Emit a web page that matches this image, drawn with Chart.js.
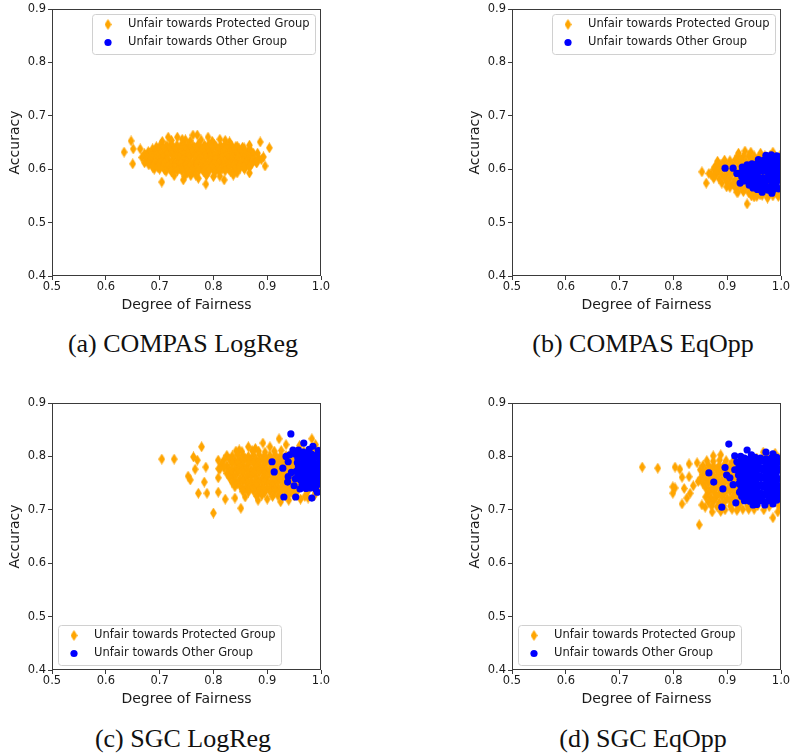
<!DOCTYPE html>
<html>
<head>
<meta charset="utf-8">
<script src="https://cdn.jsdelivr.net/npm/chart.js@4.4.0/dist/chart.umd.min.js"></script>
<style>
  body { margin: 0; background: #fff; }
  #page { position: relative; width: 790px; height: 753px; overflow: hidden; }
  .panel { position: absolute; width: 330px; height: 320px; }
  .caption { position: absolute; width: 366px; text-align: center; font-family: "Liberation Serif", serif; font-size: 26px; line-height: 26px; color: #111; }
</style>
</head>
<body>
<div id="page">
  <div class="panel" style="left:0;top:0"><canvas id="chartA" width="330" height="320"></canvas></div>
  <div class="panel" style="left:460px;top:0"><canvas id="chartB" width="330" height="320"></canvas></div>
  <div class="panel" style="left:0;top:394px"><canvas id="chartC" width="330" height="320"></canvas></div>
  <div class="panel" style="left:460px;top:394px"><canvas id="chartD" width="330" height="320"></canvas></div>
  <div class="caption" style="left:0;top:331px">(a) COMPAS LogReg</div>
  <div class="caption" style="left:460px;top:331px">(b) COMPAS EqOpp</div>
  <div class="caption" style="left:0;top:726px">(c) SGC LogReg</div>
  <div class="caption" style="left:460px;top:726px">(d) SGC EqOpp</div>
</div>
<script>
const xTicks = [0.5, 0.6, 0.7, 0.8, 0.9, 1.0];
const yTicks = [0.4, 0.5, 0.6, 0.7, 0.8, 0.9];
const seriesNames = ['Unfair towards Protected Group', 'Unfair towards Other Group'];

// [fairness, accuracy] pairs
const compasLogRegProtected = [
  [0.634,0.632],[0.647,0.653],[0.651,0.638],[0.664,0.638],[0.650,0.610],[0.704,0.576],[0.786,0.572],
  [0.820,0.580],[0.887,0.651],[0.904,0.640],[0.896,0.606],[0.893,0.623],[0.867,0.645],[0.874,0.630],
  [0.716,0.660],[0.733,0.660],[0.762,0.664],[0.770,0.664],[0.790,0.660],[0.744,0.580],[0.772,0.583],
  [0.844,0.593],[0.867,0.593],[0.889,0.618],[0.880,0.612],[0.858,0.600],[0.705,0.652],[0.748,0.655],
  [0.812,0.656],[0.830,0.651],[0.758,0.588],[0.800,0.586],[0.690,0.600],[0.682,0.627],
  [0.722,0.654],[0.742,0.656],[0.757,0.653],[0.777,0.655],[0.798,0.652],[0.822,0.654],
  [0.702,0.646],[0.712,0.644],[0.721,0.647],[0.732,0.645],[0.742,0.648],[0.753,0.646],[0.762,0.644],
  [0.772,0.647],[0.783,0.645],[0.792,0.648],[0.802,0.646],[0.813,0.644],[0.822,0.647],[0.833,0.645],[0.842,0.643],
  [0.694,0.642],[0.705,0.641],[0.714,0.643],[0.725,0.642],[0.734,0.641],[0.745,0.643],[0.754,0.642],
  [0.765,0.641],[0.774,0.643],[0.785,0.642],[0.794,0.641],[0.805,0.643],[0.814,0.642],[0.825,0.641],
  [0.834,0.643],[0.845,0.642],[0.854,0.641],
  [0.687,0.638],[0.697,0.637],[0.707,0.639],[0.717,0.637],[0.727,0.638],[0.738,0.640],[0.747,0.637],
  [0.757,0.638],[0.767,0.639],[0.778,0.637],[0.787,0.638],[0.797,0.640],[0.808,0.637],[0.817,0.638],
  [0.827,0.639],[0.837,0.637],[0.848,0.638],[0.857,0.640],[0.867,0.637],
  [0.679,0.633],[0.690,0.634],[0.699,0.633],[0.710,0.632],[0.719,0.634],[0.730,0.633],[0.739,0.632],
  [0.750,0.634],[0.759,0.633],[0.770,0.632],[0.779,0.634],[0.790,0.633],[0.799,0.632],[0.810,0.634],
  [0.819,0.633],[0.830,0.632],[0.839,0.634],[0.850,0.633],[0.859,0.632],[0.870,0.634],
  [0.672,0.629],[0.681,0.630],[0.692,0.628],[0.701,0.629],[0.711,0.631],[0.722,0.629],[0.731,0.628],
  [0.741,0.630],[0.752,0.629],[0.761,0.631],[0.771,0.628],[0.782,0.629],[0.791,0.630],[0.801,0.628],
  [0.812,0.629],[0.821,0.631],[0.831,0.629],[0.842,0.628],[0.851,0.630],[0.861,0.629],[0.872,0.628],[0.882,0.630],
  [0.674,0.625],[0.685,0.626],[0.694,0.625],[0.705,0.624],[0.714,0.626],[0.725,0.625],[0.734,0.624],
  [0.745,0.626],[0.754,0.625],[0.765,0.624],[0.774,0.626],[0.785,0.625],[0.794,0.624],[0.805,0.626],
  [0.814,0.625],[0.825,0.624],[0.834,0.626],[0.845,0.625],[0.854,0.624],[0.865,0.626],[0.874,0.625],
  [0.667,0.622],[0.677,0.621],[0.687,0.620],[0.697,0.622],[0.706,0.621],[0.716,0.619],[0.727,0.621],
  [0.737,0.622],[0.746,0.620],[0.756,0.621],[0.767,0.622],[0.776,0.620],[0.786,0.621],[0.797,0.619],
  [0.806,0.621],[0.816,0.622],[0.827,0.620],[0.836,0.621],[0.846,0.622],[0.857,0.620],[0.866,0.621],
  [0.876,0.619],[0.884,0.621],
  [0.675,0.616],[0.684,0.617],[0.695,0.616],[0.704,0.615],[0.715,0.617],[0.724,0.616],[0.735,0.615],
  [0.744,0.617],[0.755,0.616],[0.764,0.615],[0.775,0.617],[0.784,0.616],[0.795,0.615],[0.804,0.617],
  [0.815,0.616],[0.824,0.615],[0.835,0.617],[0.844,0.616],[0.855,0.615],[0.864,0.617],[0.875,0.616],
  [0.672,0.612],[0.682,0.613],[0.691,0.611],[0.701,0.612],[0.712,0.614],[0.722,0.612],[0.731,0.611],
  [0.741,0.613],[0.752,0.612],[0.762,0.611],[0.771,0.613],[0.781,0.612],[0.792,0.614],[0.802,0.612],
  [0.811,0.611],[0.821,0.613],[0.832,0.612],[0.842,0.611],[0.851,0.613],[0.861,0.612],[0.872,0.611],[0.881,0.613],
  [0.680,0.608],[0.689,0.607],[0.700,0.608],[0.709,0.609],[0.720,0.608],[0.729,0.607],[0.740,0.609],
  [0.749,0.608],[0.760,0.607],[0.769,0.609],[0.780,0.608],[0.789,0.607],[0.800,0.609],[0.809,0.608],
  [0.820,0.607],[0.829,0.609],[0.840,0.608],[0.849,0.607],[0.860,0.609],[0.869,0.608],
  [0.687,0.604],[0.697,0.603],[0.707,0.604],[0.716,0.605],[0.727,0.604],[0.737,0.602],[0.747,0.604],
  [0.756,0.605],[0.767,0.603],[0.777,0.604],[0.786,0.605],[0.797,0.603],[0.807,0.604],[0.817,0.602],
  [0.826,0.604],[0.837,0.605],[0.847,0.603],[0.856,0.604],[0.867,0.603],
  [0.700,0.600],[0.709,0.599],[0.720,0.600],[0.729,0.601],[0.740,0.600],[0.749,0.599],[0.760,0.601],
  [0.769,0.600],[0.780,0.599],[0.789,0.601],[0.800,0.600],[0.809,0.599],[0.820,0.601],[0.829,0.600],
  [0.840,0.599],[0.849,0.601],
  [0.712,0.596],[0.722,0.595],[0.733,0.597],[0.742,0.596],[0.752,0.594],[0.762,0.596],[0.773,0.597],
  [0.782,0.595],[0.792,0.596],[0.803,0.594],[0.812,0.596],[0.822,0.597],[0.832,0.595],
  [0.727,0.588],[0.747,0.587],[0.767,0.589],[0.787,0.588],[0.812,0.587],[0.837,0.589]
];
const compasLogRegOther = [];

const compasEqOppProtected = [
  [0.853,0.595],[0.861,0.574],[0.937,0.535],[0.933,0.634],[0.877,0.604],[0.887,0.608],[0.875,0.586],
  [0.899,0.567],[0.918,0.557],[0.961,0.552],[0.993,0.555],[0.942,0.623],[0.958,0.621],[0.921,0.630],
  [0.944,0.632],[0.962,0.630],[0.985,0.632],[0.975,0.546],[0.950,0.548],[0.866,0.592],[0.882,0.615],
  [0.920,0.625],[0.930,0.624],[0.940,0.626],[0.950,0.625],[0.960,0.623],[0.970,0.625],[0.980,0.626],[0.990,0.624],[0.998,0.625],
  [0.895,0.617],[0.905,0.616],[0.915,0.618],[0.925,0.617],[0.935,0.615],[0.945,0.617],[0.955,0.618],
  [0.965,0.616],[0.975,0.617],[0.985,0.618],[0.995,0.616],
  [0.880,0.608],[0.890,0.609],[0.900,0.607],[0.910,0.608],[0.920,0.610],[0.930,0.608],[0.940,0.607],
  [0.950,0.609],[0.960,0.608],[0.970,0.607],[0.980,0.609],[0.990,0.608],
  [0.875,0.600],[0.885,0.599],[0.895,0.601],[0.905,0.600],[0.915,0.598],[0.925,0.600],[0.935,0.601],
  [0.945,0.599],[0.955,0.600],[0.965,0.601],[0.975,0.599],[0.985,0.600],[0.995,0.601],
  [0.870,0.591],[0.880,0.592],[0.890,0.590],[0.900,0.591],[0.910,0.593],[0.920,0.591],[0.930,0.590],
  [0.940,0.592],[0.950,0.591],[0.960,0.590],[0.970,0.592],[0.980,0.591],[0.990,0.590],
  [0.875,0.583],[0.885,0.582],[0.895,0.584],[0.905,0.583],[0.915,0.581],[0.925,0.583],[0.935,0.584],
  [0.945,0.582],[0.955,0.583],[0.965,0.584],[0.975,0.582],[0.985,0.583],[0.995,0.582],
  [0.890,0.574],[0.900,0.575],[0.910,0.573],[0.920,0.574],[0.930,0.576],[0.940,0.574],[0.950,0.573],
  [0.960,0.575],[0.970,0.574],[0.980,0.573],[0.990,0.575],
  [0.905,0.566],[0.915,0.565],[0.925,0.567],[0.935,0.566],[0.945,0.564],[0.955,0.566],[0.965,0.567],
  [0.975,0.565],[0.985,0.566],[0.995,0.564],
  [0.920,0.557],[0.930,0.558],[0.940,0.556],[0.950,0.557],[0.960,0.559],[0.970,0.557],[0.980,0.556],[0.990,0.558],
  [0.945,0.550],[0.955,0.549],[0.965,0.551],[0.985,0.550],[0.995,0.549]
];
const compasEqOppOther = [
  [0.896,0.602],[0.911,0.602],[0.924,0.574],[0.937,0.608],[0.948,0.565],[0.965,0.557],[0.983,0.555],
  [0.980,0.623],[0.998,0.623],[0.918,0.592],[0.928,0.604],
  [0.972,0.626],[0.982,0.627],[0.992,0.625],
  [0.958,0.618],[0.968,0.617],[0.978,0.619],[0.988,0.618],[0.997,0.617],
  [0.946,0.610],[0.956,0.611],[0.966,0.609],[0.976,0.610],[0.986,0.611],[0.996,0.609],
  [0.932,0.602],[0.942,0.601],[0.952,0.603],[0.962,0.602],[0.972,0.600],[0.982,0.602],[0.992,0.603],
  [0.926,0.594],[0.936,0.595],[0.946,0.593],[0.956,0.594],[0.966,0.596],[0.976,0.594],[0.986,0.593],[0.996,0.595],
  [0.927,0.586],[0.937,0.585],[0.947,0.587],[0.957,0.586],[0.967,0.584],[0.977,0.586],[0.987,0.587],[0.997,0.585],
  [0.932,0.578],[0.942,0.579],[0.952,0.577],[0.962,0.578],[0.972,0.580],[0.982,0.578],[0.992,0.577],
  [0.941,0.570],[0.951,0.569],[0.961,0.571],[0.971,0.570],[0.981,0.568],[0.991,0.570],
  [0.956,0.562],[0.966,0.563],[0.976,0.561],[0.986,0.562],[0.996,0.563]
];

const sgcLogRegProtected = [
  [0.704,0.795],[0.727,0.795],[0.800,0.694],[0.851,0.703],[0.778,0.818],[0.763,0.799],[0.770,0.793],
  [0.766,0.776],[0.753,0.763],[0.757,0.756],[0.772,0.731],[0.786,0.780],[0.783,0.752],[0.788,0.731],
  [0.809,0.733],[0.822,0.720],[0.840,0.722],[0.859,0.724],[0.883,0.718],[0.922,0.833],[0.983,0.833],
  [0.865,0.818],[0.892,0.825],[0.812,0.776],[0.809,0.760],[0.809,0.793],[0.878,0.815],[0.905,0.818],
  [0.848,0.812],[0.935,0.822],[0.960,0.820],[0.990,0.822],[0.900,0.720],[0.925,0.715],[0.940,0.718],
  [0.962,0.720],[0.976,0.722],
  [0.842,0.810],[0.853,0.809],[0.872,0.811],[0.884,0.810],[0.896,0.808],[0.913,0.810],[0.926,0.811],
  [0.946,0.809],[0.968,0.810],[0.985,0.812],[0.996,0.809],
  [0.825,0.802],[0.835,0.801],[0.845,0.803],[0.855,0.802],[0.865,0.800],[0.875,0.802],[0.885,0.803],
  [0.895,0.801],[0.905,0.802],[0.915,0.803],[0.925,0.801],[0.935,0.802],[0.945,0.800],[0.955,0.802],
  [0.975,0.803],[0.995,0.801],
  [0.820,0.794],[0.830,0.795],[0.840,0.793],[0.850,0.794],[0.860,0.796],[0.870,0.794],[0.880,0.793],
  [0.890,0.795],[0.900,0.794],[0.910,0.793],[0.920,0.795],[0.930,0.794],[0.940,0.796],[0.950,0.794],[0.960,0.793],
  [0.834,0.790],[0.845,0.789],[0.855,0.790],[0.864,0.791],[0.875,0.790],[0.884,0.789],[0.895,0.790],
  [0.904,0.791],[0.915,0.790],[0.924,0.789],[0.935,0.790],[0.944,0.791],
  [0.815,0.785],[0.825,0.784],[0.835,0.786],[0.845,0.785],[0.855,0.783],[0.865,0.785],[0.875,0.786],
  [0.885,0.784],[0.895,0.785],[0.905,0.786],[0.915,0.784],[0.925,0.785],[0.935,0.783],[0.945,0.785],[0.955,0.786],
  [0.810,0.777],[0.820,0.778],[0.830,0.776],[0.840,0.777],[0.850,0.779],[0.860,0.777],[0.870,0.776],
  [0.880,0.778],[0.890,0.777],[0.900,0.776],[0.910,0.778],[0.920,0.777],[0.930,0.779],[0.940,0.777],[0.950,0.776],[0.960,0.778],
  [0.834,0.772],[0.845,0.773],[0.854,0.772],[0.865,0.771],[0.874,0.773],[0.885,0.772],[0.894,0.771],
  [0.905,0.773],[0.914,0.772],[0.925,0.771],[0.934,0.773],[0.945,0.772],
  [0.825,0.768],[0.835,0.767],[0.845,0.769],[0.855,0.768],[0.865,0.766],[0.875,0.768],[0.885,0.769],
  [0.895,0.767],[0.905,0.768],[0.915,0.769],[0.925,0.767],[0.935,0.768],[0.945,0.766],[0.955,0.768],
  [0.830,0.760],[0.840,0.761],[0.850,0.759],[0.860,0.760],[0.870,0.762],[0.880,0.760],[0.890,0.759],
  [0.900,0.761],[0.910,0.760],[0.920,0.759],[0.930,0.761],[0.940,0.760],[0.950,0.762],[0.960,0.760],
  [0.839,0.755],[0.850,0.756],[0.859,0.755],[0.870,0.754],[0.879,0.756],[0.890,0.755],[0.899,0.754],
  [0.910,0.756],[0.919,0.755],[0.930,0.754],[0.939,0.756],[0.950,0.755],
  [0.835,0.751],[0.845,0.750],[0.855,0.752],[0.865,0.751],[0.875,0.749],[0.885,0.751],[0.895,0.752],
  [0.905,0.750],[0.915,0.751],[0.925,0.752],[0.935,0.750],[0.945,0.751],[0.955,0.749],[0.965,0.751],
  [0.840,0.743],[0.850,0.744],[0.860,0.742],[0.870,0.743],[0.880,0.745],[0.890,0.743],[0.900,0.742],
  [0.910,0.744],[0.920,0.743],[0.930,0.742],[0.940,0.744],[0.950,0.743],[0.960,0.745],[0.980,0.743],[0.995,0.742],
  [0.854,0.738],[0.865,0.739],[0.874,0.738],[0.885,0.737],[0.894,0.739],[0.905,0.738],[0.914,0.737],
  [0.925,0.739],[0.934,0.738],[0.945,0.737],[0.954,0.739],
  [0.855,0.734],[0.865,0.733],[0.875,0.735],[0.885,0.734],[0.895,0.732],[0.905,0.734],[0.915,0.735],
  [0.925,0.733],[0.935,0.734],[0.945,0.735],[0.955,0.733],[0.975,0.734],[0.990,0.732],
  [0.880,0.726],[0.890,0.727],[0.910,0.725],[0.920,0.726],[0.940,0.728],[0.950,0.726],[0.970,0.725],[0.988,0.727]
];
const sgcLogRegOther = [
  [0.944,0.842],[0.968,0.825],[0.985,0.819],[0.909,0.790],[0.913,0.771],[0.929,0.778],[0.931,0.724],
  [0.953,0.724],[0.983,0.722],[0.993,0.733],[0.980,0.741],[0.939,0.762],[0.942,0.803],[0.948,0.812],
  [0.961,0.739],[0.967,0.808],[0.939,0.790],[0.935,0.800],[0.945,0.770],[0.938,0.752],[0.952,0.758],[0.950,0.745],
  [0.958,0.812],[0.978,0.813],[0.995,0.811],
  [0.953,0.804],[0.963,0.803],[0.973,0.805],[0.983,0.804],[0.993,0.803],
  [0.957,0.796],[0.967,0.797],[0.977,0.795],[0.987,0.796],[0.997,0.797],
  [0.956,0.788],[0.966,0.787],[0.976,0.789],[0.986,0.788],[0.996,0.787],
  [0.958,0.780],[0.968,0.781],[0.978,0.779],[0.988,0.780],[0.997,0.781],
  [0.954,0.772],[0.964,0.771],[0.974,0.773],[0.984,0.772],[0.994,0.771],
  [0.957,0.764],[0.967,0.765],[0.977,0.763],[0.987,0.764],[0.997,0.765],
  [0.962,0.756],[0.972,0.755],[0.982,0.757],[0.992,0.756],
  [0.965,0.748],[0.975,0.749],[0.985,0.747],[0.995,0.748],
  [0.972,0.740],[0.990,0.739]
];

const sgcEqOppProtected = [
  [0.742,0.780],[0.771,0.778],[0.803,0.780],[0.812,0.776],[0.829,0.786],[0.844,0.788],[0.799,0.743],
  [0.799,0.731],[0.803,0.741],[0.816,0.761],[0.816,0.711],[0.825,0.722],[0.831,0.731],[0.829,0.762],
  [0.848,0.672],[0.846,0.753],[0.853,0.709],[0.859,0.705],[0.874,0.801],[0.888,0.803],[0.872,0.696],
  [0.888,0.697],[0.909,0.701],[0.929,0.701],[0.950,0.701],[0.985,0.685],[0.994,0.696],[0.967,0.808],
  [0.989,0.806],[0.996,0.797],[0.837,0.745],[0.820,0.740],
  [0.862,0.792],[0.874,0.791],[0.886,0.793],[0.898,0.792],[0.910,0.790],[0.930,0.795],[0.955,0.797],[0.975,0.799],[0.993,0.794],
  [0.855,0.783],[0.865,0.784],[0.875,0.782],[0.885,0.783],[0.895,0.785],[0.905,0.783],[0.915,0.782],
  [0.850,0.775],[0.860,0.774],[0.870,0.776],[0.880,0.775],[0.890,0.773],[0.900,0.775],[0.910,0.776],[0.920,0.774],
  [0.855,0.766],[0.865,0.767],[0.875,0.765],[0.885,0.766],[0.895,0.768],[0.905,0.766],[0.915,0.765],[0.925,0.767],
  [0.850,0.758],[0.860,0.757],[0.870,0.759],[0.880,0.758],[0.890,0.756],[0.900,0.758],[0.910,0.759],[0.920,0.757],
  [0.855,0.749],[0.865,0.750],[0.875,0.748],[0.885,0.749],[0.895,0.751],[0.905,0.749],[0.915,0.748],[0.925,0.750],
  [0.860,0.741],[0.870,0.740],[0.880,0.742],[0.890,0.741],[0.900,0.739],[0.910,0.741],[0.920,0.742],
  [0.865,0.732],[0.875,0.733],[0.885,0.731],[0.895,0.732],[0.905,0.734],[0.915,0.732],[0.925,0.731],
  [0.860,0.724],[0.870,0.723],[0.880,0.725],[0.890,0.724],[0.900,0.722],[0.910,0.724],[0.920,0.725],[0.930,0.723],
  [0.865,0.715],[0.875,0.716],[0.885,0.714],[0.895,0.715],[0.905,0.717],[0.915,0.715],[0.925,0.714],
  [0.935,0.716],[0.955,0.715],[0.975,0.714],[0.995,0.716],
  [0.871,0.707],[0.881,0.706],[0.893,0.708],[0.906,0.707],[0.921,0.705],[0.938,0.707],[0.957,0.708],
  [0.978,0.706],[0.996,0.707],
  [0.896,0.700],[0.918,0.699],[0.940,0.701],[0.968,0.700]
];
const sgcEqOppOther = [
  [0.903,0.823],[0.937,0.812],[0.914,0.801],[0.866,0.769],[0.875,0.752],[0.892,0.739],[0.890,0.705],
  [0.896,0.779],[0.899,0.765],[0.914,0.775],[0.911,0.747],[0.916,0.713],[0.948,0.709],[0.972,0.808],
  [0.985,0.805],[0.905,0.760],[0.918,0.790],[0.925,0.800],[0.945,0.803],
  [0.932,0.797],[0.942,0.796],[0.952,0.798],[0.962,0.797],[0.972,0.795],[0.982,0.797],[0.992,0.798],
  [0.927,0.789],[0.937,0.790],[0.947,0.788],[0.957,0.789],[0.967,0.791],[0.977,0.789],[0.987,0.788],[0.997,0.790],
  [0.922,0.781],[0.932,0.780],[0.942,0.782],[0.952,0.781],[0.962,0.779],[0.972,0.781],[0.982,0.782],[0.992,0.780],
  [0.925,0.773],[0.935,0.774],[0.945,0.772],[0.955,0.773],[0.965,0.775],[0.975,0.773],[0.985,0.772],[0.995,0.774],
  [0.921,0.765],[0.931,0.764],[0.941,0.766],[0.951,0.765],[0.961,0.763],[0.971,0.765],[0.981,0.766],[0.991,0.764],
  [0.924,0.757],[0.934,0.758],[0.944,0.756],[0.954,0.757],[0.964,0.759],[0.974,0.757],[0.984,0.756],[0.994,0.758],
  [0.922,0.749],[0.932,0.748],[0.942,0.750],[0.952,0.749],[0.962,0.747],[0.972,0.749],[0.982,0.750],[0.992,0.748],
  [0.926,0.741],[0.936,0.742],[0.946,0.740],[0.956,0.741],[0.966,0.743],[0.976,0.741],[0.986,0.740],[0.996,0.742],
  [0.923,0.733],[0.933,0.732],[0.943,0.734],[0.953,0.733],[0.963,0.731],[0.973,0.733],[0.983,0.734],[0.993,0.732],
  [0.927,0.725],[0.937,0.726],[0.947,0.724],[0.957,0.725],[0.967,0.727],[0.977,0.725],[0.987,0.724],[0.997,0.726],
  [0.932,0.717],[0.942,0.716],[0.952,0.718],[0.962,0.717],[0.972,0.715],[0.982,0.717],[0.992,0.718],
  [0.955,0.710],[0.970,0.709],[0.985,0.711]
];

const PROT_COLOR = '#ffa500';
const OTHER_COLOR = '#0000ff';
const INK = '#1a1a1a';
const SPINE = '#3a3a3a';

Chart.defaults.font.family = '"DejaVu Sans", sans-serif';
Chart.defaults.color = INK;

// thin diamond marker, like matplotlib's 'd'
const diamond = document.createElement('canvas');
diamond.width = 7;
diamond.height = 11;
(function () {
  const c = diamond.getContext('2d');
  c.fillStyle = PROT_COLOR;
  c.beginPath();
  c.moveTo(3.5, 0.1);
  c.lineTo(6.9, 5.5);
  c.lineTo(3.5, 10.9);
  c.lineTo(0.1, 5.5);
  c.closePath();
  c.fill();
})();

// full box around the plot area
const frame = {
  id: 'frame',
  afterDatasetsDraw(chart) {
    const { ctx, chartArea: a } = chart;
    ctx.save();
    ctx.strokeStyle = SPINE;
    ctx.lineWidth = 1;
    ctx.strokeRect(a.left + 0.5, a.top + 0.5, a.right - a.left - 1, a.bottom - a.top - 1);
    ctx.restore();
  }
};

// boxed legend sitting inside the plot area
const insetLegend = {
  id: 'insetLegend',
  afterDraw(chart, args, opts) {
    const { ctx, chartArea: a } = chart;
    const w = 223, h = 40;
    const x = opts.corner === 'tr' ? a.right - 6 - w : a.left + 6;
    const y = opts.corner === 'tr' ? a.top + 5 : a.bottom - 5 - h;
    ctx.save();
    ctx.fillStyle = 'rgba(255,255,255,0.8)';
    ctx.strokeStyle = '#d0d0d0';
    ctx.lineWidth = 1;
    ctx.beginPath();
    ctx.roundRect(x + 0.5, y + 0.5, w, h, 3);
    ctx.fill();
    ctx.stroke();
    ctx.font = '11.5px "DejaVu Sans"';
    ctx.textBaseline = 'middle';
    ctx.fillStyle = INK;
    seriesNames.forEach((name, i) => {
      const cy = y + 10.5 + i * 18;
      if (i === 0) {
        ctx.drawImage(diamond, x + 16 - 3.5, cy - 5.5);
      } else {
        ctx.save();
        ctx.fillStyle = OTHER_COLOR;
        ctx.beginPath();
        ctx.arc(x + 16, cy, 3.6, 0, Math.PI * 2);
        ctx.fill();
        ctx.restore();
      }
      ctx.fillText(name, x + 36, cy);
    });
    ctx.restore();
  }
};

const toPoints = pairs => pairs.map(p => ({ x: p[0], y: p[1] }));

function axis(ticks, min, max, title, isX) {
  return {
    type: 'linear',
    min: min,
    max: max,
    afterBuildTicks: s => { s.ticks = ticks.map(v => ({ value: v })); },
    ticks: {
      font: { size: 11.5 },
      color: INK,
      padding: isX ? 0 : 2,
      callback: v => v.toFixed(1)
    },
    grid: { drawOnChartArea: false, drawTicks: true, tickLength: 4, color: SPINE, tickWidth: 1 },
    border: { display: false },
    title: {
      display: true,
      text: title,
      color: INK,
      font: { size: 14 },
      padding: isX ? { top: 0, bottom: 6.5 } : { top: 6.6, bottom: 0 }
    },
    afterFit: s => {
      if (isX) s.height = 44; else s.width = 52;
      s.paddingLeft = 0; s.paddingRight = 0; s.paddingTop = 0; s.paddingBottom = 0;
    }
  };
}

function makeChart(id, prot, other, corner) {
  new Chart(document.getElementById(id), {
    type: 'scatter',
    data: {
      datasets: [
        {
          label: seriesNames[0],
          data: toPoints(prot),
          pointStyle: diamond,
          pointRadius: 4,
          pointBackgroundColor: PROT_COLOR,
          pointBorderWidth: 0,
          order: 1
        },
        {
          label: seriesNames[1],
          data: toPoints(other),
          pointStyle: 'circle',
          pointRadius: 3.6,
          pointBackgroundColor: OTHER_COLOR,
          pointBorderColor: OTHER_COLOR,
          pointBorderWidth: 0,
          order: 0
        }
      ]
    },
    options: {
      responsive: false,
      animation: false,
      events: [],
      clip: 0,
      layout: { padding: { left: 0, right: 9, top: 9, bottom: 0 } },
      scales: {
        x: axis(xTicks, 0.5, 1.0, 'Degree of Fairness', true),
        y: axis(yTicks, 0.4, 0.9, 'Accuracy', false)
      },
      plugins: {
        legend: { display: false },
        tooltip: { enabled: false },
        insetLegend: { corner: corner }
      }
    },
    plugins: [frame, insetLegend]
  });
}

makeChart('chartA', compasLogRegProtected, compasLogRegOther, 'tr');
makeChart('chartB', compasEqOppProtected, compasEqOppOther, 'tr');
makeChart('chartC', sgcLogRegProtected, sgcLogRegOther, 'bl');
makeChart('chartD', sgcEqOppProtected, sgcEqOppOther, 'bl');
</script>
</body>
</html>
